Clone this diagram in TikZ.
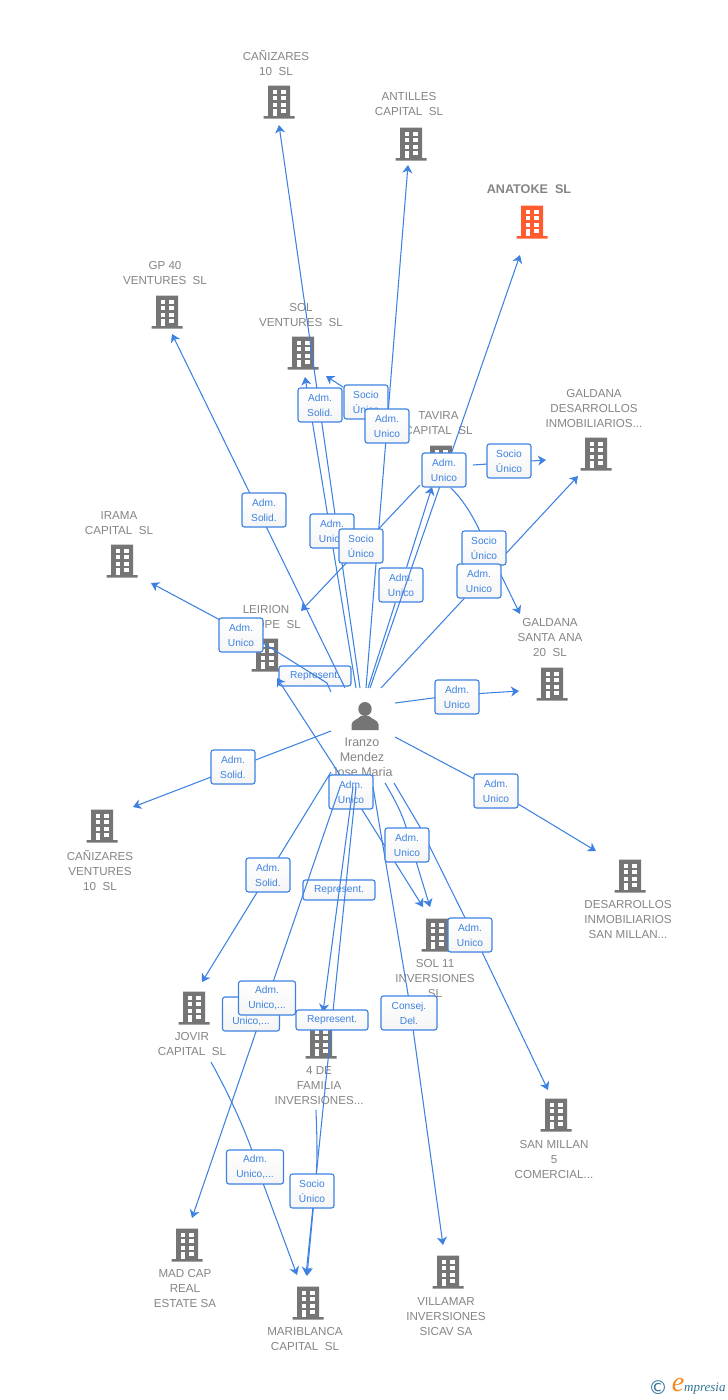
\documentclass[tikz,border=0pt]{standalone}
\usepackage{fontspec}
\setmainfont{Liberation Sans}
\newfontfamily\logofont{Liberation Serif}
\newfontfamily\symfont{DejaVu Sans}
\usetikzlibrary{arrows.meta}
\definecolor{icongray}{HTML}{757575}
\definecolor{textgray}{HTML}{858585}
\definecolor{hot}{HTML}{FF5B2E}
\definecolor{linkblue}{HTML}{3D82E2}
\definecolor{logoblue}{HTML}{2F7396}
\definecolor{logoorange}{HTML}{F28A1E}
\tikzset{
  conn/.style={draw=linkblue,line width=1.05pt},
  arr/.style={conn,-{Stealth[length=8pt,width=10pt,inset=2.4pt]}},
  rolebox/.style={draw=linkblue,line width=1.15pt,rounded corners=2.5pt,top color=white,bottom color=black!4,
    text=linkblue,font=\fontsize{10.2}{15}\selectfont,align=center,inner sep=0pt,minimum width=44pt,minimum height=34pt},
  widebox/.style={rolebox,minimum width=57pt},
  repbox/.style={rolebox,minimum width=72pt,minimum height=20pt},
  caption/.style={text=textgray,font=\fontsize{11.6}{15}\selectfont,align=center,inner sep=0pt,yshift=0.8pt},
  iconbox/.style={inner sep=0pt,minimum width=31pt,minimum height=33pt}
}
\newcommand{\bldg}[4]{%
  \node[iconbox] (#1) at (#2,#3) {};
  \begin{scope}[shift={(#2,#3)}]
    \fill[#4] (-11,-16.5) rectangle (11,14) (-15.5,14) rectangle (15.5,16.5);
    \foreach \wy in {-12.5,-6.5,0.5}{
      \fill[white] (-6.5,\wy) rectangle (-2,\wy+4);
      \fill[white] (2,\wy) rectangle (6.5,\wy+4);
    }
    \fill[white] (2,6.5) rectangle (6.5,10.5);
    \fill[white] (-6.5,6.5) rectangle (-2,14);
  \end{scope}}
\begin{document}
\begin{tikzpicture}[x=1pt,y=-1pt]
\useasboundingbox (0,0) rectangle (728,1400);
\fill[white] (0,0) rectangle (728,1400);

% companies
\bldg{canizares}{279}{102}{icongray}
\bldg{antilles}{411}{144}{icongray}
\bldg{anatoke}{532}{222}{hot}
\bldg{gpforty}{167}{312}{icongray}
\bldg{solvent}{303}{353}{icongray}
\bldg{tavira}{441}{462}{icongray}
\bldg{galdanades}{596}{454}{icongray}
\bldg{irama}{122}{561}{icongray}
\bldg{leirion}{267}{655}{icongray}
\bldg{galdanasa}{552}{684}{icongray}
\bldg{canvent}{102}{826}{icongray}
\bldg{desarrollos}{630}{876}{icongray}
\bldg{solonce}{437}{935}{icongray}
\bldg{jovir}{194}{1008}{icongray}
\bldg{familia}{321}{1042}{icongray}
\bldg{sanmillan}{556}{1115}{icongray}
\bldg{madcap}{187}{1245}{icongray}
\bldg{mariblanca}{308}{1303}{icongray}
\bldg{villamar}{448}{1272}{icongray}

% person
\node[inner sep=0pt,minimum width=28pt,minimum height=28pt] (person) at (365,716) {};
\fill[icongray] (365,709) ellipse (6.7 and 7);
\fill[icongray] (351.5,730) -- (351.5,724.5) .. controls (352,720) and (358,719.5) .. (361,716)
  -- (369,716) .. controls (372,719.5) and (378,720) .. (378.5,724.5) -- (378.5,730) -- cycle;

% captions
\node[caption] (tcanizares) at (276,63.5) {CAÑIZARES\\10\ \ SL};
\node[caption] (tantilles) at (409,104.5) {ANTILLES\\CAPITAL\ \ SL};
\node[caption,font=\bfseries\fontsize{12.6}{15}\selectfont] (tanatoke) at (529,190) {ANATOKE\ \ SL};
\node[caption] (tgp) at (165,273.5) {GP 40\\VENTURES\ \ SL};
\node[caption] (tsolv) at (301,315.5) {SOL\\VENTURES\ \ SL};
\node[caption] (ttavira) at (438.5,423.5) {TAVIRA\\CAPITAL\ \ SL};
\node[caption] (tgaldes) at (594,409) {GALDANA\\DESARROLLOS\\INMOBILIARIOS...};
\node[caption] (tirama) at (119,523.5) {IRAMA\\CAPITAL\ \ SL};
\node[caption] (tleirion) at (266,617.5) {LEIRION\\EUROPE\ \ SL};
\node[caption] (tgalsa) at (550,638) {GALDANA\\SANTA ANA\\20\ \ SL};
\node[caption,font=\fontsize{12.5}{15}\selectfont] (tperson) at (362,758) {Iranzo\\Mendez\\Jose Maria};
\node[caption] (tcanv) at (100,871) {CAÑIZARES\\VENTURES\\10\ \ SL};
\node[caption] (tdes) at (628,920) {DESARROLLOS\\INMOBILIARIOS\\SAN MILLAN...};
\node[caption] (tsol) at (435,979) {SOL 11\\INVERSIONES\\SL};
\node[caption] (tjovir) at (192,1044.5) {JOVIR\\CAPITAL\ \ SL};
\node[caption] (tfam) at (319,1086) {4 DE\\FAMILIA\\INVERSIONES...};
\node[caption] (tsan) at (554,1160) {SAN MILLAN\\5\\COMERCIAL...};
\node[caption] (tmad) at (185,1289) {MAD CAP\\REAL\\ESTATE SA};
\node[caption] (tmari) at (305,1339.5) {MARIBLANCA\\CAPITAL\ \ SL};
\node[caption] (tvilla) at (446,1317) {VILLAMAR\\INVERSIONES\\SICAV SA};

% connector free ends
\coordinate (sCan) at (360,688);   \coordinate (eCan) at (279,125);
\coordinate (sSol) at (356,688);   \coordinate (eSol) at (305,377);
\coordinate (eSolB) at (326,376);
\coordinate (sAnt) at (366,688);   \coordinate (eAnt) at (408,165);
\coordinate (sAna) at (370,688);   \coordinate (eAna) at (520,255);
\coordinate (sTav) at (368,688);   \coordinate (eTav) at (432,487);
\coordinate (sLei) at (420,485);   \coordinate (eLei) at (301,611);
\coordinate (sGde) at (473,465);   \coordinate (eGde) at (546,460);
\coordinate (sGsa) at (451,488);   \coordinate (eGsa) at (520,614);
\coordinate (sGd2) at (381,688);   \coordinate (eGd2) at (578,476);
\coordinate (sGp) at (345,688);    \coordinate (eGp) at (172,334);
\coordinate (sIra) at (331,692);   \coordinate (mIra) at (327,683); \coordinate (eIra) at (151,583);
\coordinate (hub) at (351,792);
\coordinate (eRep) at (277,678);   \coordinate (sRep) at (423,907);
\coordinate (sCanv) at (331,731);  \coordinate (eCanv) at (133,807);
\coordinate (sGs2) at (395,703);   \coordinate (eGs2) at (519,691);
\coordinate (sDes) at (395,737);   \coordinate (eDes) at (596,851);
\coordinate (sJov) at (331,772);   \coordinate (eJov) at (202,982);
\coordinate (sMad) at (340,787);   \coordinate (eMad) at (192,1218);
\coordinate (sFam) at (353,787);   \coordinate (eFam) at (323,1012);
\coordinate (sMar) at (356,787);   \coordinate (eMar) at (306,1275);
\coordinate (sFam2) at (316,1110); \coordinate (eFam2) at (307,1276);
\coordinate (sJo2) at (211,1062);  \coordinate (eJo2) at (297,1275);
\coordinate (sVil) at (373,787);   \coordinate (eVil) at (443,1245);
\coordinate (sSo1) at (385,783);   \coordinate (eSo1) at (430,907);
\coordinate (sSan) at (394,783);   \coordinate (mSan) at (420,827); \coordinate (nSan) at (482,952); \coordinate (eSan) at (548,1090);

% labels that the lines run over
\node[rolebox] (lbTav) at (401,585) {Adm.\\Unico};
\node[repbox] (lbRep2) at (339,890) {Represent.};
\node[repbox] (lbRep1) at (315,676) {Represent.};

% lines that pass under the centre label
\draw[arr] (hub) -- (eRep);
\draw[arr] (hub) -- (sRep);
\node[rolebox] (lbCenter) at (hub) {Adm.\\Unico};

% connectors
\draw[arr] (sCan) -- (eCan);
\draw[arr] (sSol) -- (eSol);
\draw[arr] (sAnt) -- (eAnt);
\draw[arr] (sAna) -- (eAna);
\draw[arr] (sTav) -- (lbTav) -- (eTav);
\draw[arr] (sLei) -- (eLei);
\draw[arr] (sGde) -- (eGde);
\draw[arr] (sGsa) .. controls (463,500) and (473,515) .. (484,540) -- (eGsa);
\draw[arr] (sGd2) -- (eGd2);
\draw[arr] (sGp) -- (eGp);
\draw[arr] (sIra) -- (mIra) -- (263,643) -- (eIra);
\draw[arr] (sCanv) -- (eCanv);
\draw[arr] (sGs2) -- (456,695) -- (eGs2);
\draw[arr] (sDes) -- (495,790) -- (eDes);
\draw[arr] (sJov) -- (eJov);
\draw[arr] (sMad) -- (eMad);
\draw[arr] (sFam) -- (eFam);
\draw[arr] (sMar) -- (eMar);
\draw[arr] (sFam2) .. controls (317,1140) and (318,1160) .. (315,1190) -- (eFam2);
\draw[arr] (sJo2) .. controls (232,1100) and (250,1140) .. (260,1175) -- (eJo2);
\draw[arr] (sVil) -- (409,1000) -- (eVil);
\draw[arr] (sSo1) .. controls (398,805) and (405,820) .. (408,835) -- (eSo1);
\draw[arr] (sSan) -- (mSan) -- (nSan) -- (eSan);

% labels above the lines
\node[rolebox] (lbCan) at (320,405) {Adm.\\Solid.};
\node[rolebox] (lbSocS) at (366,402) {Socio\\Único};
\draw[arr] (lbSocS) -- (eSolB);
\node[rolebox] (lbAnt) at (387,426) {Adm.\\Unico};
\node[rolebox] (lbGde) at (509,461) {Socio\\Único};
\node[rolebox] (lbAna) at (444,470) {Adm.\\Unico};
\node[rolebox] (lbGp) at (264,510) {Adm.\\Solid.};
\node[rolebox] (lbSol) at (332,531) {Adm.\\Unico};
\node[rolebox] (lbLei) at (361,546) {Socio\\Único};
\node[rolebox] (lbGsa) at (484,548) {Socio\\Único};
\node[rolebox] (lbGd2) at (479,581) {Adm.\\Unico};
\node[rolebox] (lbIra) at (241,635) {Adm.\\Unico};
\node[rolebox] (lbGs2) at (457,697) {Adm.\\Unico};
\node[rolebox] (lbCanv) at (233,767) {Adm.\\Solid.};
\node[rolebox] (lbDes) at (496,791) {Adm.\\Unico};
\node[rolebox] (lbSo1) at (407,845) {Adm.\\Unico};
\node[rolebox] (lbJov) at (268,875) {Adm.\\Solid.};
\node[rolebox] (lbSan) at (470,935) {Adm.\\Unico};
\node[widebox] (lbHid) at (251,1014) {Adm.\\Unico,...};
\node[widebox] (lbMad) at (267,998) {Adm.\\Unico,...};
\node[widebox,minimum width=56pt] (lbVil) at (409,1013) {Consej.\\Del.};
\node[repbox] (lbRep3) at (332,1020) {Represent.};
\node[widebox] (lbJo2) at (255,1167) {Adm.\\Unico,...};
\node[rolebox] (lbFam) at (312,1191) {Socio\\Único};

% brand mark
\node[text=logoblue,font=\symfont\fontsize{19}{19}\selectfont,inner sep=0pt] (copyr) at (658,1388) {©};
\node[text=logoorange,font=\logofont\itshape\fontsize{28}{28}\selectfont,inner sep=0pt] (brandE) at (678,1385) {e};
\node[text=logoblue,font=\logofont\itshape\fontsize{13}{13}\selectfont,inner sep=0pt,anchor=west] (brand) at (684,1389) {mpresia};
\end{tikzpicture}
\end{document}
